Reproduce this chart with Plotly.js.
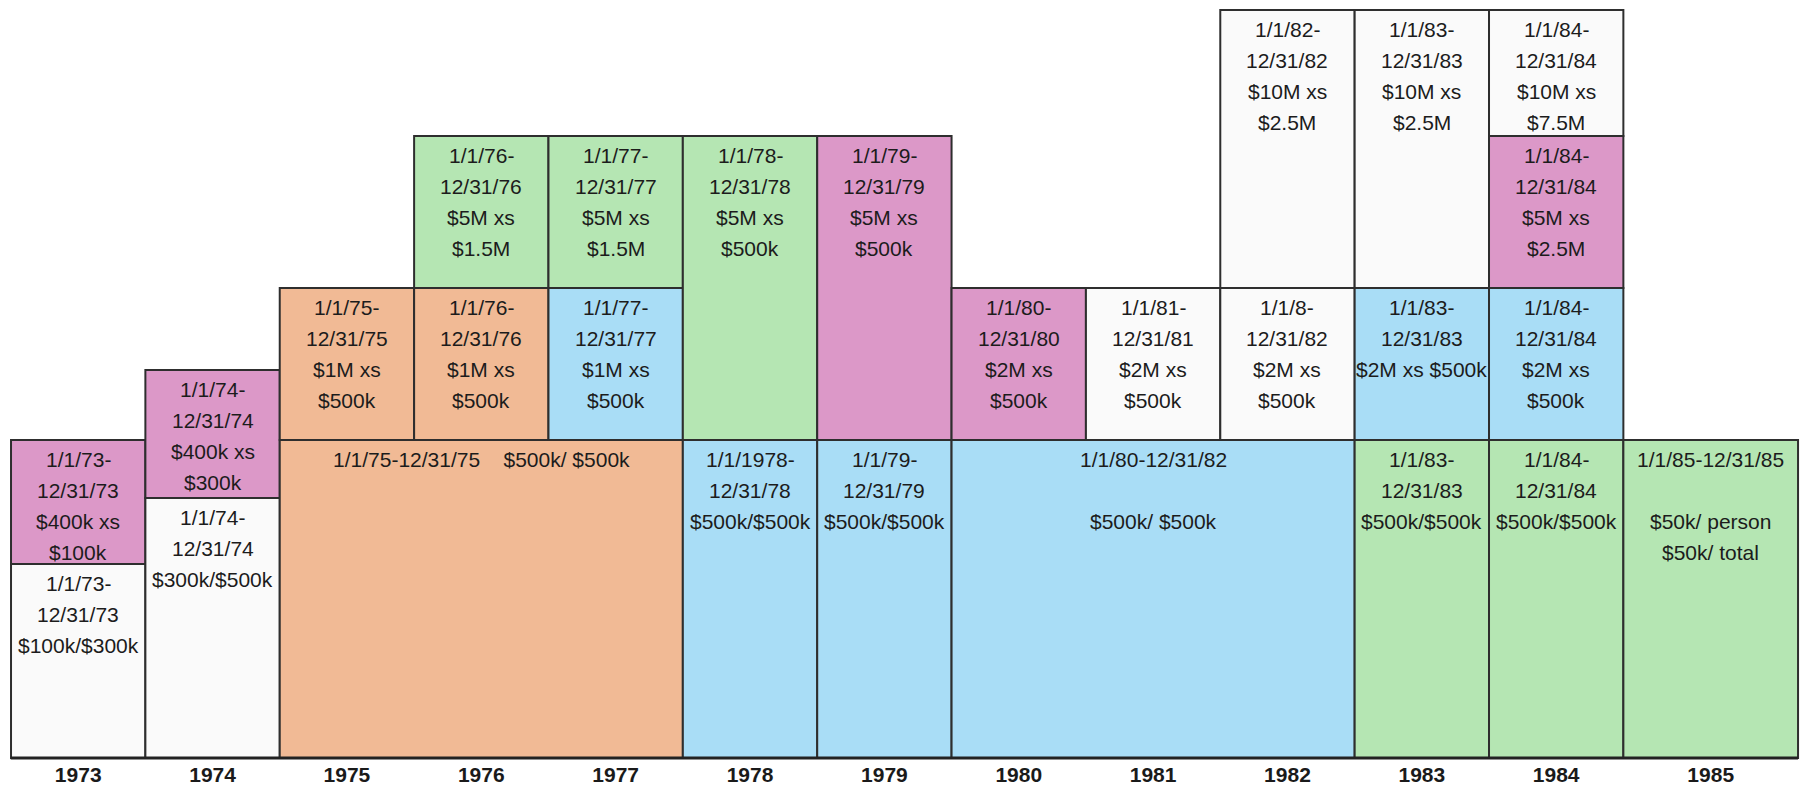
<!DOCTYPE html>
<html>
<head>
<meta charset="utf-8">
<script src="https://cdn.plot.ly/plotly-3.0.1.min.js"></script>
<style>
html,body{margin:0;padding:0;background:#ffffff;}
#chart{width:1801px;height:788px;}
</style>
</head>
<body>
<div id="chart"></div>
<script>
// ---- DATA ----
const years = [1973,1974,1975,1976,1977,1978,1979,1980,1981,1982,1983,1984,1985];

// each coverage block: first year column, last year column, bottom level, top level (visual tower levels)
const blockStart  = [1973,1973,1974,1974,1975,1975,1976,1976,1977,1977,1978,1978,1979,1979,1980,1980,1981,1982,1982,1983,1983,1983,1984,1984,1984,1984,1985];
const blockEnd    = [1973,1973,1974,1974,1977,1975,1976,1976,1977,1977,1978,1978,1979,1979,1982,1980,1981,1982,1982,1983,1983,1983,1984,1984,1984,1984,1985];
const blockBottom = [0,194,0,260,0,318,318,470,318,470,0,318,0,318,0,318,318,318,470,0,318,470,0,318,470,622,0];
const blockTop    = [194,318,260,388,318,470,470,622,470,622,318,622,318,622,318,470,470,470,748,318,470,748,318,470,622,748,318];
const blockCarrier = ['white','pink','white','pink','orange','orange','orange','green','blue','green','blue','green','blue','pink','blue','pink','white','white','white','green','blue','white','green','blue','pink','white','green'];
const blockText = [
  '1/1/73-\n12/31/73\n$100k/$300k',
  '1/1/73-\n12/31/73\n$400k xs\n$100k',
  '1/1/74-\n12/31/74\n$300k/$500k',
  '1/1/74-\n12/31/74\n$400k xs\n$300k',
  '1/1/75-12/31/75\u00A0\u00A0\u00A0\u00A0$500k/ $500k',
  '1/1/75-\n12/31/75\n$1M xs\n$500k',
  '1/1/76-\n12/31/76\n$1M xs\n$500k',
  '1/1/76-\n12/31/76\n$5M xs\n$1.5M',
  '1/1/77-\n12/31/77\n$1M xs\n$500k',
  '1/1/77-\n12/31/77\n$5M xs\n$1.5M',
  '1/1/1978-\n12/31/78\n$500k/$500k',
  '1/1/78-\n12/31/78\n$5M xs\n$500k',
  '1/1/79-\n12/31/79\n$500k/$500k',
  '1/1/79-\n12/31/79\n$5M xs\n$500k',
  '1/1/80-12/31/82\n\n$500k/ $500k',
  '1/1/80-\n12/31/80\n$2M xs\n$500k',
  '1/1/81-\n12/31/81\n$2M xs\n$500k',
  '1/1/8-\n12/31/82\n$2M xs\n$500k',
  '1/1/82-\n12/31/82\n$10M xs\n$2.5M',
  '1/1/83-\n12/31/83\n$500k/$500k',
  '1/1/83-\n12/31/83\n$2M xs $500k',
  '1/1/83-\n12/31/83\n$10M xs\n$2.5M',
  '1/1/84-\n12/31/84\n$500k/$500k',
  '1/1/84-\n12/31/84\n$2M xs\n$500k',
  '1/1/84-\n12/31/84\n$5M xs\n$2.5M',
  '1/1/84-\n12/31/84\n$10M xs\n$7.5M',
  '1/1/85-12/31/85\n\n$50k/ person\n$50k/ total'
];

// ---- STYLE ----
const carrierColors = {
  white:'#FAFAFA', pink:'#DC98C8', green:'#B5E6B3', blue:'#A9DDF6', orange:'#F1BA95'
};
const X_MIN = 1972.418, X_MAX = 1985.822, LAST_EDGE = 1985.8;
const FIRST_LINE_OFFSET = 19, LINE_STEP = 31;
const lastYear = years[years.length-1];

const x0s = blockStart.map(s => s - 0.5);
const x1s = blockEnd.map(e => e === lastYear ? LAST_EDGE : e + 0.5);

const barTrace = {
  type:'bar',
  x: x0s.map((a,i) => (a + x1s[i]) / 2),
  width: x0s.map((a,i) => x1s[i] - a),
  base: blockBottom,
  y: blockTop.map((t,i) => t - blockBottom[i]),
  marker:{
    color: blockCarrier.map(c => carrierColors[c]),
    line:{color:'#2e2e2e', width:2}
  },
  hoverinfo:'skip',
  showlegend:false
};

const annotations = [];
blockText.forEach((txt,i) => {
  const cx = (x0s[i] + x1s[i]) / 2;
  txt.split('\n').forEach((line,j) => {
    if (!line) return;
    annotations.push({
      x: cx, y: blockTop[i] - FIRST_LINE_OFFSET - j*LINE_STEP,
      xref:'x', yref:'y', text: line, showarrow:false,
      xanchor:'center', yanchor:'middle',
      font:{family:'"Liberation Sans", Arial, sans-serif', size:21, color:'#1c1c1c'}
    });
  });
});

const layout = {
  width:1801, height:788,
  margin:{l:0, r:0, t:0, b:28, pad:0},
  paper_bgcolor:'#ffffff', plot_bgcolor:'#ffffff',
  barmode:'overlay', bargap:0,
  showlegend:false,
  xaxis:{
    range:[X_MIN, X_MAX], tickmode:'array', tickvals: years.map(y => y === lastYear ? (lastYear - 0.5 + LAST_EDGE)/2 : y),
    ticktext: years.map(String), ticks:'', showgrid:false, zeroline:false, showline:false,
    tickfont:{family:'"Liberation Sans", Arial, sans-serif', size:21, color:'#1a1a1a', weight:'bold'},
    fixedrange:true
  },
  yaxis:{range:[-2, 758], visible:false, fixedrange:true},
  shapes:[{type:'line', xref:'x', yref:'y', x0:X_MIN + 0.08, x1:LAST_EDGE, y0:0, y1:0,
    line:{color:'#222', width:3}, layer:'above'}],
  annotations: annotations
};

Plotly.newPlot('chart', [barTrace], layout, {displayModeBar:false, staticPlot:true});
</script>
</body>
</html>
